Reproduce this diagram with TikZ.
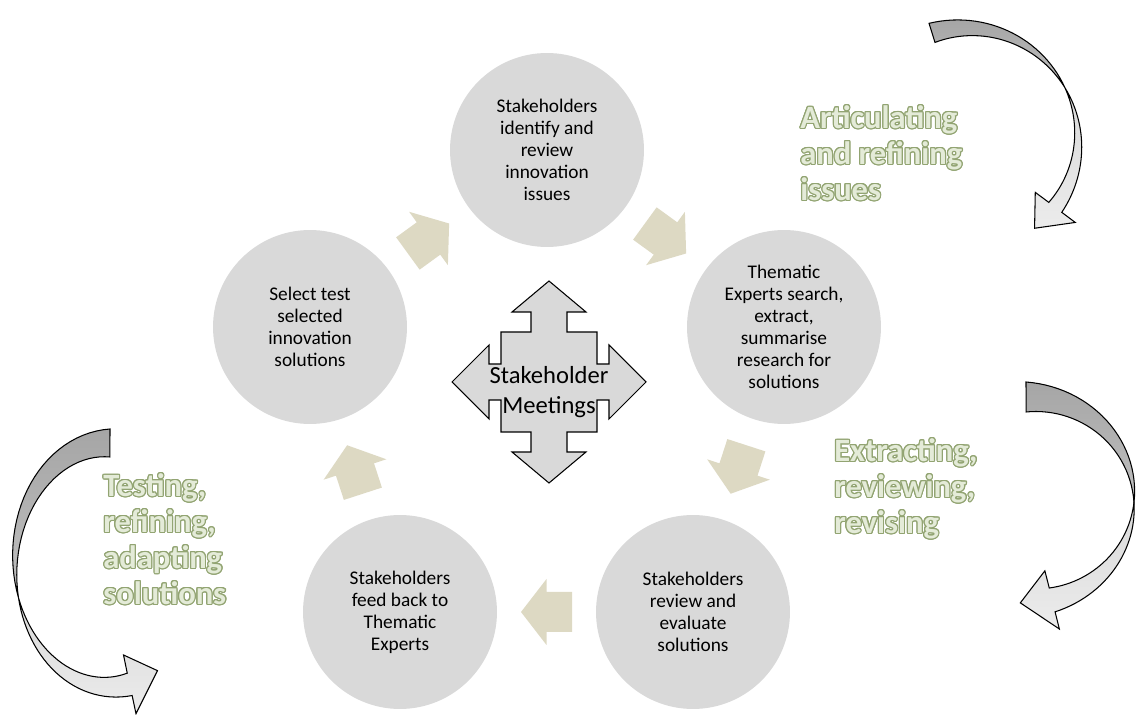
\documentclass[tikz,border=0pt]{standalone}
\usepackage{fontspec}
\setmainfont{Carlito}
\usepackage{contour}
\usetikzlibrary{calc}

\definecolor{bubble}{RGB}{217,217,217}
\definecolor{wheat}{RGB}{221,217,195}
\definecolor{rimgreen}{RGB}{146,164,114}
\definecolor{paletext}{RGB}{228,235,216}
\contourlength{0.65pt}

\tikzset{
  stage/.style={circle,fill=bubble,minimum size=3.88cm,inner sep=0pt,align=center,
    font=\fontsize{11}{12.5}\selectfont},
  hub/.style={fill=bubble,draw=black,line width=0.6pt},
  backface/.style={draw=black,line width=0.6pt,top color=gray!70,bottom color=gray!50},
  frontface/.style={draw=black,line width=0.6pt,top color=gray!30,bottom color=gray!15},
  phase/.style={align=left,anchor=north west,inner sep=0pt,text=paletext,
    font=\bfseries\fontsize{18.5}{20.5}\selectfont},
  cyclearrow/.pic={\fill[wheat] (-25.5,-20) -- (0,-20) -- (0,-33) -- (25.5,0) -- (0,33) -- (0,20) -- (-25.5,20) -- cycle;}
}

% centre x, centre y, rx, ry, tail angle, head base angle, tip angle, half band, half head
\newcommand{\twistarrow}[9]{%
  \path[backface] plot[domain=0:0.55,samples=30,variable=\ta]
      ({#1+(#3+#8*(0.55-\ta)/0.55)*cos(#5+\ta*(#6-#5))},{#2-(#4+#8*(0.55-\ta)/0.55)*sin(#5+\ta*(#6-#5))})
    -- plot[domain=0:0.55,samples=30,variable=\tb]
      ({#1+(#3-#8*\tb/0.55)*cos(#5+(0.55-\tb)*(#6-#5))},{#2-(#4-#8*\tb/0.55)*sin(#5+(0.55-\tb)*(#6-#5))})
    -- cycle;
  \path[frontface] plot[domain=0.55:1,samples=30,variable=\ta]
      ({#1+(#3+#8*(0.55-\ta)/0.55)*cos(#5+\ta*(#6-#5))},{#2-(#4+#8*(0.55-\ta)/0.55)*sin(#5+\ta*(#6-#5))})
    -- ({#1+(#3-#9)*cos(#6)},{#2-(#4-#9)*sin(#6)})
    -- ({#1+#3*cos(#7)},{#2-#4*sin(#7)})
    -- ({#1+(#3+#9)*cos(#6)},{#2-(#4+#9)*sin(#6)})
    -- plot[domain=0:0.45,samples=30,variable=\tb]
      ({#1+(#3+#8*(0.45-\tb)/0.55)*cos(#5+(1-\tb)*(#6-#5))},{#2-(#4+#8*(0.45-\tb)/0.55)*sin(#5+(1-\tb)*(#6-#5))})
    -- cycle;}

\begin{document}
\begin{tikzpicture}[x=0.02cm,y=-0.02cm]
  \useasboundingbox (0,0) rectangle (1137,715);

  % the five stages
  \begin{scope}[every node/.style={stage}]
    \node (identify) at (547,150) {Stakeholders\\identify and\\review\\innovation\\issues};
    \node (search) at (784,327) {Thematic\\Experts search,\\extract,\\summarise\\research for\\solutions};
    \node (evaluate) at (693,612) {Stakeholders\\review and\\evaluate\\solutions};
    \node (feedback) at (400,612) {Stakeholders\\feed back to\\Thematic\\Experts};
    \node (select) at (310,327) {Select test\\selected\\innovation\\solutions};
  \end{scope}

  \pic[rotate=-36] at ($(identify)!0.5!(search)$) {cyclearrow};
  \pic[rotate=-108] at ($(search)!0.5!(evaluate)$) {cyclearrow};
  \pic[rotate=180] at ($(evaluate)!0.5!(feedback)$) {cyclearrow};
  \pic[rotate=108] at ($(feedback)!0.5!(select)$) {cyclearrow};
  \pic[rotate=36] at ($(select)!0.5!(identify)$) {cyclearrow};

  % meetings in the middle
  \filldraw[hub,shift={(549,382)}] (0,-101) -- (37,-70) -- (18,-70) -- (18,-50) -- (48,-50) -- (48,-18)
    -- (60,-18) -- (60,-37) -- (97,0) -- (60,37) -- (60,18) -- (48,18) -- (48,50) -- (18,50)
    -- (18,70) -- (37,70) -- (0,101) -- (-37,70) -- (-18,70) -- (-18,50) -- (-48,50) -- (-48,18)
    -- (-60,18) -- (-60,37) -- (-97,0) -- (-60,-37) -- (-60,-18) -- (-48,-18) -- (-48,-50)
    -- (-18,-50) -- (-18,-70) -- (-37,-70) -- cycle;
  \node[align=center,inner sep=0pt,font=\fontsize{14}{17}\selectfont] (meetings) at (549,392) {Stakeholder\\Meetings};

  % phases
  \twistarrow{965}{140}{113}{112}{107}{-37}{-52}{10}{25}
  \twistarrow{1026}{500}{108}{103}{90}{-76}{-93}{15}{30}
  \twistarrow{110}{565}{95}{122}{90}{282}{300}{14}{30}

  \node[phase] (articulate) at (800,105) {\contour{rimgreen}{Articulating}\\\contour{rimgreen}{and refining}\\\contour{rimgreen}{issues}};
  \node[phase] (extract) at (834,438) {\contour{rimgreen}{Extracting,}\\\contour{rimgreen}{reviewing,}\\\contour{rimgreen}{revising}};
  \node[phase] (testing) at (103,473) {\contour{rimgreen}{Testing,}\\\contour{rimgreen}{refining,}\\\contour{rimgreen}{adapting}\\\contour{rimgreen}{solutions}};
\end{tikzpicture}
\end{document}
